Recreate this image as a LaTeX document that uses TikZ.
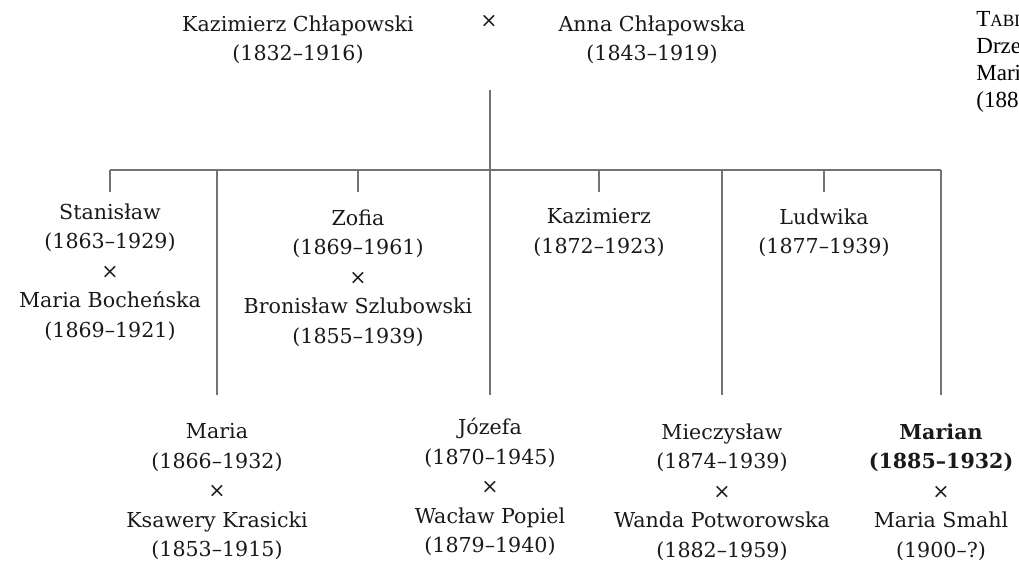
\documentclass[tikz,border=0pt]{standalone}
\usepackage{fontspec}
\setmainfont{DejaVu Serif}
\newfontfamily\tabfont{Liberation Serif}
\begin{document}
\begin{tikzpicture}[x=0.5pt, y=-0.5pt,
    person/.style={anchor=north, align=center, inner sep=0pt, text=black!90,
      font=\fontsize{10.3}{14.75}\selectfont},
    line/.style={draw=black!55, line width=0.6pt}]
  \useasboundingbox (0,0) rectangle (1019,564);
  \clip (0,0) rectangle (1019,564);

  % parents
  \node[person] (kazimierz) at (298,15) {Kazimierz Chłapowski\\(1832–1916)};
  \node[person] (wed) at (489,15) {×};
  \node[person] (anna) at (652,15) {Anna Chłapowska\\(1843–1919)};

  % children, upper row
  \node[person] (stanislaw) at (110,203) {Stanisław\\(1863–1929)\\×\\Maria Bocheńska\\(1869–1921)};
  \node[person] (zofia) at (358,209) {Zofia\\(1869–1961)\\×\\Bronisław Szlubowski\\(1855–1939)};
  \node[person] (kazimierzjr) at (599,208) {Kazimierz\\(1872–1923)};
  \node[person] (ludwika) at (824,208) {Ludwika\\(1877–1939)};

  % children, lower row
  \node[person] (maria) at (217,423) {Maria\\(1866–1932)\\×\\Ksawery Krasicki\\(1853–1915)};
  \node[person] (jozefa) at (490,418) {Józefa\\(1870–1945)\\×\\Wacław Popiel\\(1879–1940)};
  \node[person] (mieczyslaw) at (722,423) {Mieczysław\\(1874–1939)\\×\\Wanda Potworowska\\(1882–1959)};
  \node[person, font=\fontsize{10.3}{14.75}\selectfont\bfseries] (marian) at (941,423)
    {Marian\\(1885–1932)\\{\mdseries ×}\\{\mdseries Maria Smahl}\\{\mdseries (1900–?)}};

  \node[anchor=north west, align=left, inner sep=0pt, text=black,
    font=\tabfont\fontsize{11.5}{13.5}\selectfont] (caption) at (976,11)
    {T{\fontsize{8.6}{9}\selectfont ABL}\\Drze\\Mari\\(1885};

  % connectors
  \coordinate (union) at (490,90);
  \coordinate (bar) at (490,170);
  \coordinate (tickend) at (490,192);
  \coordinate (dropend) at (490,395);

  \draw[line] (union) -- (dropend);
  \draw[line] (bar -| stanislaw) -- (bar -| marian);
  \foreach \kid in {stanislaw, zofia, kazimierzjr, ludwika}
    \draw[line] (bar -| \kid) -- (tickend -| \kid);
  \foreach \kid in {maria, mieczyslaw, marian}
    \draw[line] (bar -| \kid) -- (dropend -| \kid);
\end{tikzpicture}
\end{document}
